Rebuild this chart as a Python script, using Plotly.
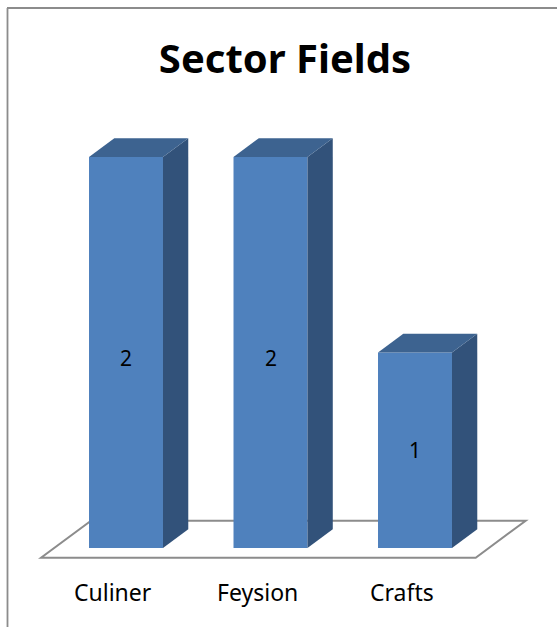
import plotly.graph_objects as go

# ---- data ----
categories = ["Culiner", "Feysion", "Crafts"]
values = [2, 2, 1]
chart_title = "Sector Fields"

# ---- 3D look, in axis units ----
BAR_W = 0.512
DEPTH_X = 0.175
DEPTH_Y = 0.0957
FRONT = "#4F81BD"
TOP = "#3D6390"
SIDE = "#32527A"
GRID = "#8C8C8C"
FONT = "Noto Sans"

W, H = 557, 627
X_UNIT = 144.5
Y_UNIT = 195.5
x_first_center = 126
y_base = 548

xmin = (0 - x_first_center) / X_UNIT
xmax = (W - x_first_center) / X_UNIT
ymin = -(H - y_base) / Y_UNIT
ymax = y_base / Y_UNIT

xs = list(range(len(categories)))
fig = go.Figure()

# side and top faces
for x, v in zip(xs, values):
    r = x + BAR_W / 2
    l = x - BAR_W / 2
    fig.add_trace(go.Scatter(x=[r, r + DEPTH_X, r + DEPTH_X, r, r], y=[0, DEPTH_Y, v + DEPTH_Y, v, 0],
                             mode="lines", line=dict(width=0), fill="toself", fillcolor=SIDE,
                             hoverinfo="skip", showlegend=False))
    fig.add_trace(go.Scatter(x=[l, r, r + DEPTH_X, l + DEPTH_X, l], y=[v, v, v + DEPTH_Y, v + DEPTH_Y, v],
                             mode="lines", line=dict(width=0), fill="toself", fillcolor=TOP,
                             hoverinfo="skip", showlegend=False))

# front faces
fig.add_trace(go.Bar(x=xs, y=values, width=BAR_W, marker=dict(color=FRONT, line=dict(width=0)),
                     hoverinfo="skip", showlegend=False))

# value labels
for x, v in zip(xs, values):
    fig.add_annotation(x=x, y=v / 2, text=str(v), showarrow=False, xanchor="center", yanchor="middle",
                       yshift=-5 if v == 2 else 0,
                       font=dict(family=FONT, size=21, color="#000000"))

# category labels
for x, c in zip(xs, categories):
    fig.add_annotation(x=x - 0.087, y=-0.225, text=c, showarrow=False, xanchor="center", yanchor="middle",
                       font=dict(family=FONT, size=23, color="#000000"))

# floor, drawn under the bars
fl, fr = xs[0] - 0.588, xs[-1] + 0.42
f0, f1 = -0.0501, 0.1396
floor_path = f"M {fl} {f0} L {fr} {f0} L {fr + 0.346} {f1} L {fl + 0.346} {f1} Z"

fig.update_layout(
    width=W, height=H, autosize=False,
    margin=dict(l=0, r=0, t=0, b=0),
    paper_bgcolor="#FFFFFF", plot_bgcolor="rgba(0,0,0,0)",
    title=dict(text="<b>" + chart_title + "</b>", x=285 / W, xanchor="center", y=1 - 59 / H, yanchor="middle",
               font=dict(family=FONT, size=40, color="#000000")),
    xaxis=dict(range=[xmin, xmax], visible=False, fixedrange=True),
    yaxis=dict(range=[ymin, ymax], visible=False, fixedrange=True),
    shapes=[
        dict(type="path", xref="x", yref="y", path=floor_path, layer="below",
             line=dict(color=GRID, width=2), fillcolor="#FFFFFF"),
        dict(type="line", xref="paper", yref="paper", x0=7.5 / W, x1=7.5 / W, y0=0, y1=1 - 8 / H,
             line=dict(color=GRID, width=1.8)),
        dict(type="line", xref="paper", yref="paper", x0=7 / W, x1=1, y0=1 - 8 / H, y1=1 - 8 / H,
             line=dict(color=GRID, width=1.8)),
    ],
)

fig.write_html("out.html", config={"displayModeBar": False},
               post_script="document.body.style.margin='0';document.body.style.overflow='hidden';")
